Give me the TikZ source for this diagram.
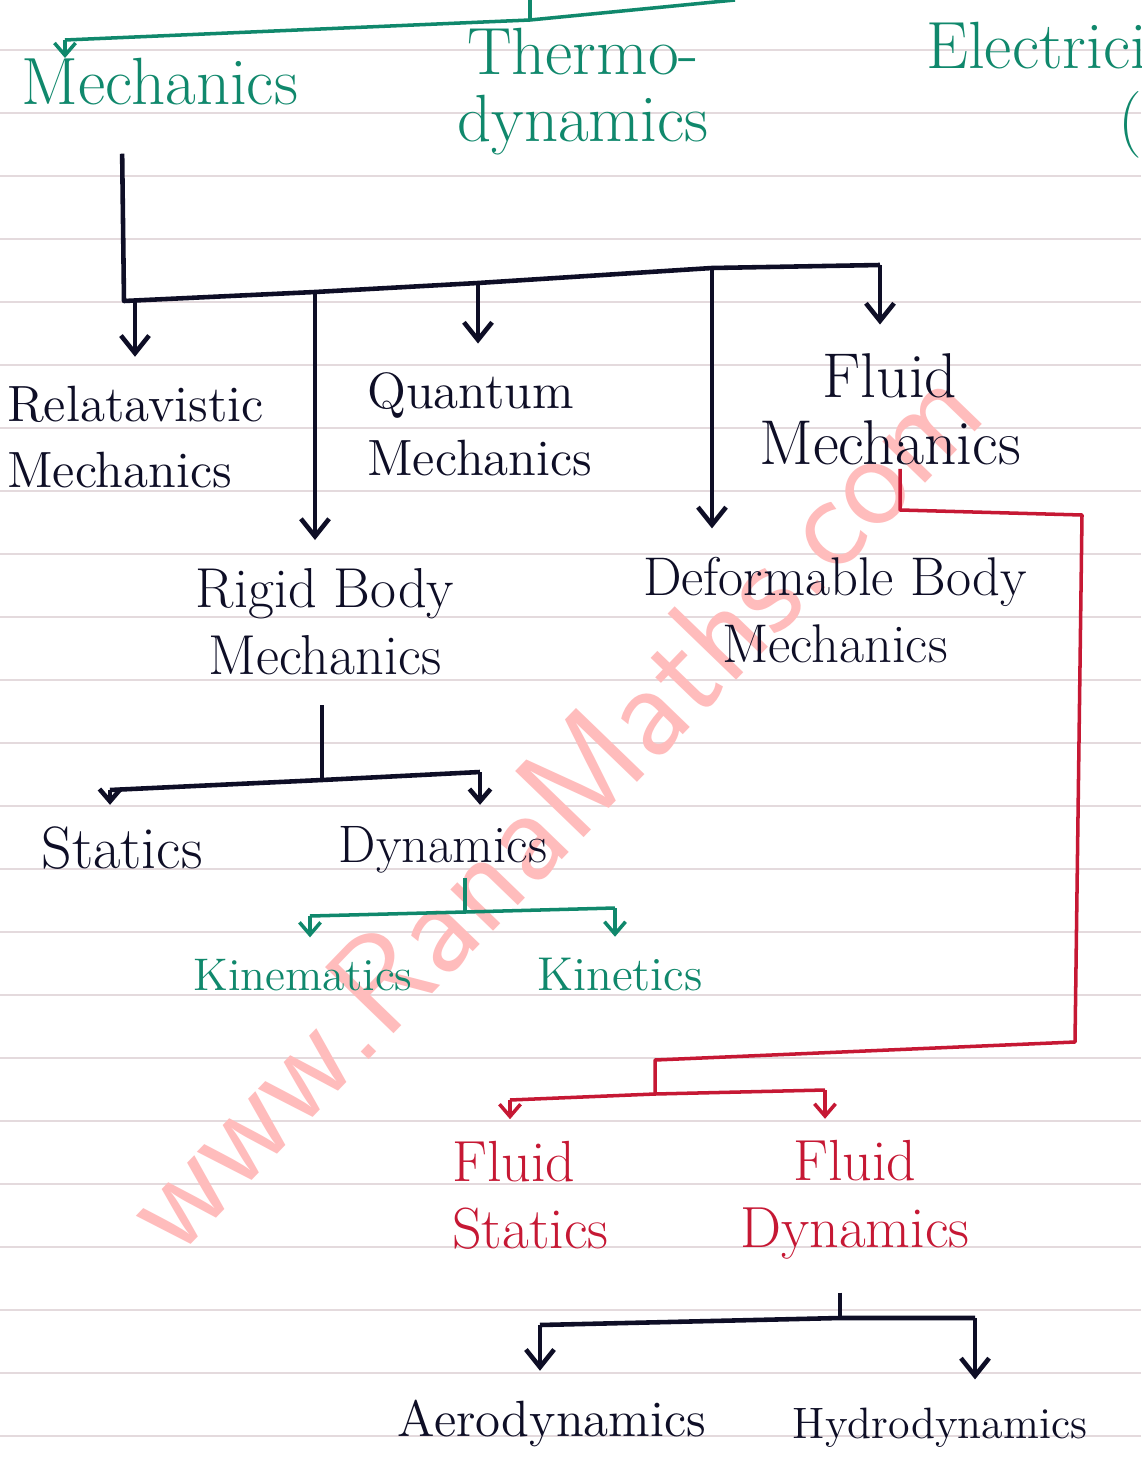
\documentclass[tikz,border=0pt]{standalone}
\usepackage{tikz}
\usetikzlibrary{arrows.meta}

\definecolor{inkgreen}{RGB}{16,136,108}
\definecolor{inkblack}{RGB}{14,14,38}
\definecolor{inkred}{RGB}{198,24,52}
\definecolor{markpink}{RGB}{255,188,188}
\definecolor{rulepink}{RGB}{228,218,221}

\tikzset{
	lbl/.style={align=center, inner sep=1pt, font=\fontsize{#1}{19}\selectfont},
	lbl/.default=16,
	blackline/.style={inkblack, line width=1.3pt, line join=round},
	greenline/.style={inkgreen, line width=1pt, line join=round},
	redline/.style={inkred, line width=1pt, line join=round},
	tipbig/.style={-{Straight Barb[length=5pt,width=8pt]}, shorten >=7pt},
	tipsmall/.style={-{Straight Barb[length=3.5pt,width=6pt]}, shorten >=5pt},
	fromnode/.style={shorten <=4pt},
}

\begin{document}
\begin{tikzpicture}[x=0.01cm, y=-0.01cm]

	% PAGE
	\useasboundingbox (0,0) rectangle (1141,1479);
	\clip (0,0) rectangle (1141,1479);
	\fill[white] (0,0) rectangle (1141,1479);
	\foreach \y in {50,113,...,1479}
	\draw[rulepink, line width=0.6pt] (0,\y) -- (1141,\y);

	% WATERMARK
	\node[markpink, rotate=46, font=\sffamily\fontsize{39}{39}\selectfont] (mark) at (550,805) {www.RanaMaths.com};

	% TOP LEVEL (green)
	\node[lbl=19, inkgreen] (mech) at (160,82) {Mechanics};
	\node[lbl=19, inkgreen] (thermo) at (583,92) {Thermo-\\dynamics};
	\node[lbl=19, inkgreen, anchor=west] (elec) at (922,52) {Electricity};
	\node[lbl=19, inkgreen] (paren) at (1130,125) {(};

	\coordinate (topL) at (65,40);
	\coordinate (topM) at (530,20);
	\coordinate (topTip) at (65,58);
	\draw[greenline] (topL) -- (topM) -- (735,0);
	\draw[greenline] (topM) -- (530,0);
	\draw[greenline, -{Straight Barb[length=3.5pt,width=6pt]}] (topL) -- (topTip);

	% BRANCHES OF MECHANICS
	\node[lbl=14.5, inkblack, align=left, anchor=west] (relat) at (3,437) {Relatavistic\\Mechanics};
	\node[lbl=14.5, inkblack, align=left, anchor=west] (quant) at (363,424) {Quantum\\Mechanics};
	\node[lbl=18, inkblack] (fluid) at (890,409) {Fluid\\Mechanics};
	\node[lbl=16, inkblack] (rigid) at (325,622) {Rigid Body\\Mechanics};
	\node[lbl=15.5, inkblack] (deform) at (835,610) {Deformable Body\\Mechanics};

	\coordinate (bCorner) at (124,301);
	\coordinate (bRel) at (135,300);
	\coordinate (bRig) at (315,292);
	\coordinate (bQua) at (478,283);
	\coordinate (bDef) at (712,268);
	\coordinate (bFlu) at (880,265);
	\draw[blackline, fromnode] ([xshift=-0.38cm]mech.south) ++(0,30) -- (bCorner) -- (bRig) -- (bQua) -- (bDef) -- (bFlu);
	\draw[blackline, tipbig] (bRel) -- (bRel |- relat.north);
	\draw[blackline, tipbig] (bRig) -- (bRig |- rigid.north);
	\draw[blackline, tipbig] (bQua) -- (bQua |- quant.north);
	\draw[blackline, tipbig] (bDef) -- (bDef |- deform.north);
	\draw[blackline, tipbig] (bFlu) -- (bFlu |- fluid.north);

	% RIGID BODY MECHANICS
	\node[lbl=17, inkblack] (stat) at (122,848) {Statics};
	\node[lbl=15, inkblack] (dyn) at (443,850) {Dynamics};

	\coordinate (rJ) at (322,780);
	\coordinate (rL) at (110,790);
	\coordinate (rR) at (480,772);
	\draw[blackline, fromnode] (rigid.south -| rJ) ++(0,12) -- (rJ);
	\draw[blackline] (rL) -- (rJ) -- (rR);
	\draw[blackline, tipsmall] (rL) -- (rL |- stat.north);
	\draw[blackline, tipsmall] (rR) -- (rR |- dyn.north);

	% DYNAMICS (green)
	\node[lbl=13, inkgreen] (kinem) at (303,975) {Kinematics};
	\node[lbl=13.5, inkgreen] (kinet) at (620,975) {Kinetics};

	\coordinate (gJ) at (465,912);
	\coordinate (gL) at (310,916);
	\coordinate (gR) at (615,908);
	\draw[greenline] (dyn.south -| gJ) -- (gJ);
	\draw[greenline] (gL) -- (gJ) -- (gR);
	\draw[greenline, tipsmall] (gL) -- (gL |- kinem.north);
	\draw[greenline, tipsmall] (gR) -- (gR |- kinet.north);

	% FLUID MECHANICS (red)
	\node[lbl=16.5, inkred, align=left, anchor=west] (fstat) at (448,1195) {Fluid\\Statics};
	\node[lbl=16.5, inkred] (fdyn) at (855,1200) {Fluid\\Dynamics};

	\coordinate (fA) at (900,510);
	\coordinate (fB) at (1082,515);
	\coordinate (fC) at (1075,1042);
	\coordinate (fJ) at (655,1060);
	\coordinate (fK) at (655,1094);
	\coordinate (fL) at (510,1100);
	\coordinate (fR) at (825,1090);
	\draw[redline] (fluid.south -| fA) -- (fA) -- (fB) -- (fC) -- (fJ) -- (fK);
	\draw[redline] (fL) -- (fK) -- (fR);
	\draw[redline, tipsmall] (fL) -- (fL |- fstat.north);
	\draw[redline, tipsmall] (fR) -- (fR |- fdyn.north);

	% FLUID DYNAMICS
	\node[lbl=14.5, inkblack] (aero) at (552,1423) {Aerodynamics};
	\node[lbl=12.5, inkblack] (hydro) at (940,1428) {Hydrodynamics};

	\coordinate (hJ) at (840,1318);
	\coordinate (hL) at (540,1325);
	\coordinate (hR) at (975,1318);
	\draw[blackline, fromnode] (fdyn.south -| hJ) ++(0,15) -- (hJ);
	\draw[blackline] (hL) -- (hJ) -- (hR);
	\draw[blackline, tipbig] (hL) -- (hL |- aero.north);
	\draw[blackline, tipbig] (hR) -- (hR |- hydro.north);

\end{tikzpicture}
\end{document}
